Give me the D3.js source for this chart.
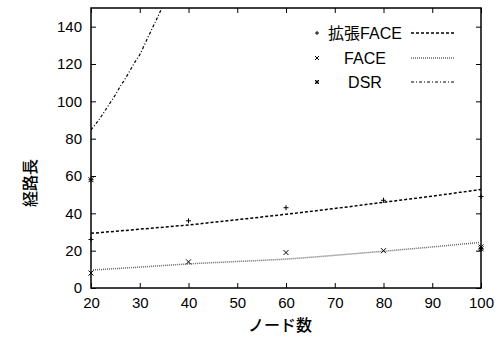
<!DOCTYPE html>
<html>
<head>
<meta charset="utf-8">
<script src="https://cdn.jsdelivr.net/npm/d3@7"></script>
<style>
  body { margin: 0; background: #fff; }
  text { font-family: "Liberation Sans", "Noto Sans CJK JP", sans-serif; }
</style>
</head>
<body>
<div id="chart"></div>
<script>
// Measured points
const nodes = [20, 40, 60, 80, 100];
const extFacePts = [26, 36, 43, 47, 49];
const facePts = [8, 14, 19, 20, 22];
const dsrPtsX = [20, 100];
const dsrPts = [58, 21];

// Fitted curves
const curveX = [20, 30, 40, 50, 60, 70, 80, 90, 100];
const extFaceCurve = [29.3, 31.5, 33.8, 36.6, 39.5, 42.6, 45.9, 49.2, 52.8];
const faceCurve = [9.6, 11.2, 12.9, 14.2, 15.5, 17.5, 19.7, 22.0, 24.5];
const dsrCurveX = [20, 21, 22, 23, 24, 25, 26, 27, 28, 29, 30, 31, 32, 33, 34, 35, 36];
const dsrCurve = [84.7, 88, 91.5, 95.5, 99.5, 103.5, 108, 112, 116.5, 121, 125, 130.5, 136, 141.5, 147, 153, 159];

const xTicks = [20, 30, 40, 50, 60, 70, 80, 90, 100];
const yTicks = [0, 20, 40, 60, 80, 100, 120, 140];

const W = 498, H = 341;
const MARGIN = { top: 8, right: 17, bottom: 53, left: 91 };
const IW = W - MARGIN.left - MARGIN.right;
const IH = H - MARGIN.top - MARGIN.bottom;

const svg = d3.select("#chart").append("svg")
  .attr("width", W).attr("height", H);

const g = svg.append("g")
  .attr("transform", `translate(${MARGIN.left},${MARGIN.top})`);

const x = d3.scaleLinear().domain([20, 100]).range([0, IW]);
const y = d3.scaleLinear().domain([0, 150]).range([IH, 0]);

svg.append("defs").append("clipPath").attr("id", "clip")
  .append("rect").attr("width", IW).attr("height", IH);

// Ticks on all four sides, pointing inward
const TL = 5;
g.append("g").attr("transform", `translate(0,${IH})`)
  .call(d3.axisBottom(x).tickValues(xTicks).tickSizeInner(-TL).tickSizeOuter(0).tickPadding(9))
  .call(a => a.select(".domain").remove());
g.append("g")
  .call(d3.axisTop(x).tickValues(xTicks).tickSizeInner(-TL).tickSizeOuter(0).tickFormat(""))
  .call(a => a.select(".domain").remove());
g.append("g")
  .call(d3.axisLeft(y).tickValues(yTicks).tickSizeInner(-TL).tickSizeOuter(0).tickPadding(9))
  .call(a => a.select(".domain").remove());
g.append("g").attr("transform", `translate(${IW},0)`)
  .call(d3.axisRight(y).tickValues(yTicks).tickSizeInner(-TL).tickSizeOuter(0).tickFormat(""))
  .call(a => a.select(".domain").remove());

g.selectAll(".tick line").attr("stroke", "#000").attr("stroke-width", 1);
g.selectAll(".tick text").attr("font-size", "15px").attr("fill", "#000")
  .attr("font-family", "'Liberation Sans', sans-serif");

// Frame
g.append("rect").attr("width", IW).attr("height", IH)
  .attr("fill", "none").attr("stroke", "#000").attr("stroke-width", 1.5);

// Axis titles
svg.append("text")
  .attr("x", MARGIN.left + IW / 2 - 6).attr("y", 331)
  .attr("text-anchor", "middle").attr("font-size", "16px").attr("font-weight", 500)
  .attr("font-family", "'Noto Sans CJK JP', sans-serif")
  .text("ノード数");
svg.append("text")
  .attr("transform", `translate(36,${MARGIN.top + IH / 2 + 35}) rotate(-90)`)
  .attr("text-anchor", "middle").attr("font-size", "16px").attr("font-weight", 500)
  .attr("font-family", "'Noto Sans CJK JP', sans-serif")
  .text("経路長");

// Curves
const line = d3.line().curve(d3.curveMonotoneX);
const plot = g.append("g").attr("clip-path", "url(#clip)");

const series = [
  { xs: curveX, ys: extFaceCurve, stroke: "#000", dash: "3,2", w: 1.5 },
  { xs: curveX, ys: faceCurve, stroke: "#666", dash: "1,1", w: 1.5 },
  { xs: dsrCurveX, ys: dsrCurve, stroke: "#000", dash: "3,2,1,2", w: 1.2 }
];
plot.selectAll("path.fit").data(series).join("path")
  .attr("class", "fit")
  .attr("d", s => line(s.xs.map((v, i) => [x(v), y(s.ys[i])])))
  .attr("fill", "none")
  .attr("stroke", d => d.stroke)
  .attr("stroke-dasharray", d => d.dash)
  .attr("stroke-width", d => d.w);

// Markers
function plus(sel, S) {
  sel.append("path").attr("d", `M${-S},0H${S}M0,${-S}V${S}`);
}
function cross(sel, S) {
  sel.append("path").attr("d", `M${-S},${-S}L${S},${S}M${-S},${S}L${S},${-S}`);
}
function star(sel, S) {
  plus(sel, S); cross(sel, S);
}
function markers(xs, ys, shape) {
  const m = g.append("g").selectAll("g").data(xs).join("g")
    .attr("transform", (d, i) => `translate(${x(d)},${y(ys[i])})`)
    .attr("stroke", "#000").attr("stroke-width", 1).attr("fill", "none");
  m.call(shape, 2.5);
}
markers(nodes, extFacePts, plus);
markers(nodes, facePts, cross);
markers(dsrPtsX, dsrPts, star);

// Legend
const legend = [
  { label: "拡張FACE", ly: 33, shape: plus, s: series[0] },
  { label: "FACE", ly: 58, shape: cross, s: series[1] },
  { label: "DSR", ly: 82, shape: star, s: series[2] }
];
legend.forEach(l => {
  const row = svg.append("g");
  row.append("g").attr("transform", `translate(317,${l.ly})`)
    .attr("stroke", "#000").attr("stroke-width", 1).attr("fill", "none")
    .call(l.shape, 2);
  row.append("text").attr("x", 365).attr("y", l.ly + 6)
    .attr("text-anchor", "middle").attr("font-size", "16px")
    .attr("font-family", "'Liberation Sans', 'Noto Sans CJK JP', sans-serif")
    .text(l.label);
  row.append("line").attr("x1", 411).attr("x2", 455)
    .attr("y1", l.ly).attr("y2", l.ly)
    .attr("stroke", l.s.stroke).attr("stroke-dasharray", l.s.dash).attr("stroke-width", l.s.w);
});
</script>
</body>
</html>
